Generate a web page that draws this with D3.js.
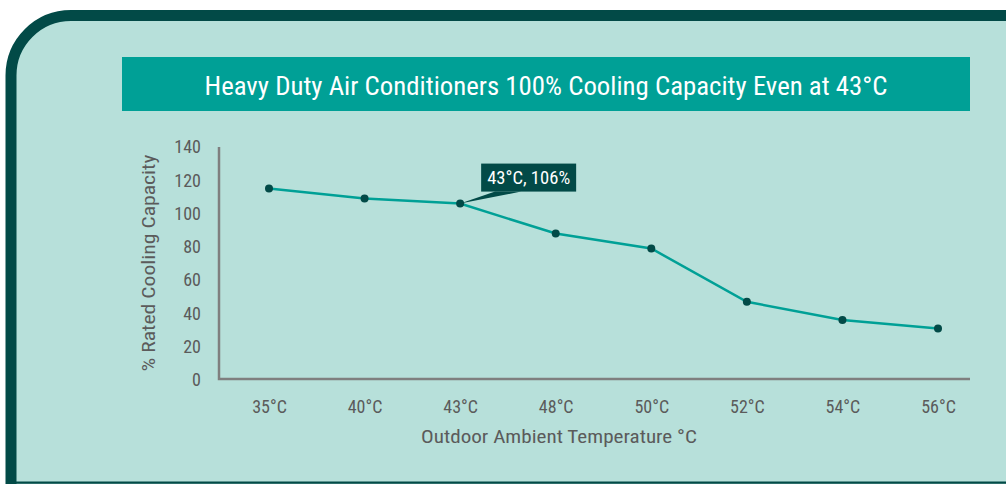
<!DOCTYPE html>
<html lang="en">
<head>
    <meta charset="UTF-8">
    <script src="https://cdn.jsdelivr.net/npm/d3@7"></script>
    <title>Cooling Capacity</title>
    <style>
        body { margin: 0; background: #ffffff; }
        text { font-family: "Roboto Condensed", "Liberation Sans Narrow", "DejaVu Sans Condensed", Roboto, sans-serif; }
    </style>
</head>
<body>
    <div id="chart"></div>
    <script>
        /*------------------- data --------------------*/
        const temps = ["35°C", "40°C", "43°C", "48°C", "50°C", "52°C", "54°C", "56°C"];
        const capacity = [115, 109, 106, 88, 79, 47, 36, 31];
        const yTicks = [0, 20, 40, 60, 80, 100, 120, 140];
        const titleText = "Heavy Duty Air Conditioners 100% Cooling Capacity Even at 43°C";
        const noteIndex = 2;
        const noteText = "43°C, 106%";

        /*------------------- layout --------------------*/
        const width = 1006, height = 484;
        const plot = { left: 219, right: 970, top: 147, bottom: 380 };
        const dark = "#024a47", teal = "#00a096", grey = "#7f7f7f", textGrey = "#5b5b5b";

        const svg = d3.select("#chart").append("svg")
            .attr("width", width)
            .attr("height", height);

        // frame: only the top-left corner is rounded, it runs off the right edge
        const fx = 11, fy = 15.5, r = 60;
        svg.append("path")
            .attr("d", `M${fx},${height + 5}V${fy + r}A${r},${r} 0 0 1 ${fx + r},${fy}H${width + 20}V${height + 5}Z`)
            .attr("fill", "#b7e0da")
            .attr("stroke", dark)
            .attr("stroke-width", 11);
        svg.append("line")
            .attr("x1", fx).attr("x2", width)
            .attr("y1", height - 1.5).attr("y2", height - 1.5)
            .attr("stroke", dark)
            .attr("stroke-width", 2);

        // title bar
        svg.append("rect")
            .attr("x", 122).attr("y", 57)
            .attr("width", 848).attr("height", 54)
            .attr("fill", teal);
        svg.append("text")
            .attr("x", 546).attr("y", 95)
            .attr("text-anchor", "middle")
            .attr("fill", "#ffffff")
            .attr("font-size", 25)
            .attr("textLength", 683)
            .attr("lengthAdjust", "spacingAndGlyphs")
            .text(titleText);

        /*------------------- scales --------------------*/
        const x = d3.scalePoint().domain(temps).range([269, 938]);
        const y = d3.scaleLinear().domain([0, 140]).range([plot.bottom, plot.top]);

        // y axis labels
        const yAxis = svg.append("g")
            .attr("transform", `translate(${plot.left},0)`)
            .call(d3.axisLeft(y).tickValues(yTicks).tickSize(0).tickPadding(18));
        yAxis.select(".domain").remove();
        yAxis.selectAll("text")
            .attr("fill", textGrey)
            .attr("font-size", 18)
            .attr("font-family", null);

        // x axis labels
        const xAxis = svg.append("g")
            .attr("transform", `translate(0,${plot.bottom})`)
            .call(d3.axisBottom(x).tickSize(0).tickPadding(20));
        xAxis.select(".domain").remove();
        xAxis.selectAll("text")
            .attr("fill", textGrey)
            .attr("font-size", 18)
            .attr("font-family", null);

        // axis lines
        svg.append("path")
            .attr("d", `M${plot.left},${plot.top}V${plot.bottom - 1}H${plot.right}`)
            .attr("fill", "none")
            .attr("stroke", grey)
            .attr("stroke-width", 2.5);

        // axis titles
        svg.append("text")
            .attr("transform", "translate(155,263) rotate(-90)")
            .attr("text-anchor", "middle")
            .attr("fill", textGrey)
            .attr("font-size", 18)
            .attr("textLength", 217)
            .attr("lengthAdjust", "spacingAndGlyphs")
            .text("% Rated Cooling Capacity");
        svg.append("text")
            .attr("x", 559).attr("y", 443)
            .attr("text-anchor", "middle")
            .attr("fill", textGrey)
            .attr("font-size", 18)
            .attr("textLength", 276)
            .attr("lengthAdjust", "spacingAndGlyphs")
            .text("Outdoor Ambient Temperature °C");

        /*------------------- line + points --------------------*/
        const pts = temps.map((t, i) => ({ t: t, v: capacity[i] }));
        const line = d3.line().x(d => x(d.t)).y(d => y(d.v));

        svg.append("path")
            .datum(pts)
            .attr("d", line)
            .attr("fill", "none")
            .attr("stroke", teal)
            .attr("stroke-width", 2.5);

        svg.selectAll("circle.pt")
            .data(pts)
            .enter()
            .append("circle")
            .attr("class", "pt")
            .attr("cx", d => x(d.t))
            .attr("cy", d => y(d.v))
            .attr("r", 4)
            .attr("fill", dark);

        /*------------------- callout --------------------*/
        const px = x(temps[noteIndex]), py = y(capacity[noteIndex]);
        const bx = px + 21, by = py - 40, bw = 95, bh = 28;
        svg.append("path")
            .attr("d", `M${px},${py}L${bx + 14},${by + bh}L${bx + 40},${by + bh}Z`)
            .attr("fill", dark);
        svg.append("rect")
            .attr("x", bx).attr("y", by)
            .attr("width", bw).attr("height", bh)
            .attr("fill", dark);
        svg.append("text")
            .attr("x", bx + bw / 2).attr("y", by + 20)
            .attr("text-anchor", "middle")
            .attr("fill", "#ffffff")
            .attr("font-size", 18)
            .attr("textLength", 83)
            .attr("lengthAdjust", "spacingAndGlyphs")
            .text(noteText);
    </script>
</body>
</html>
